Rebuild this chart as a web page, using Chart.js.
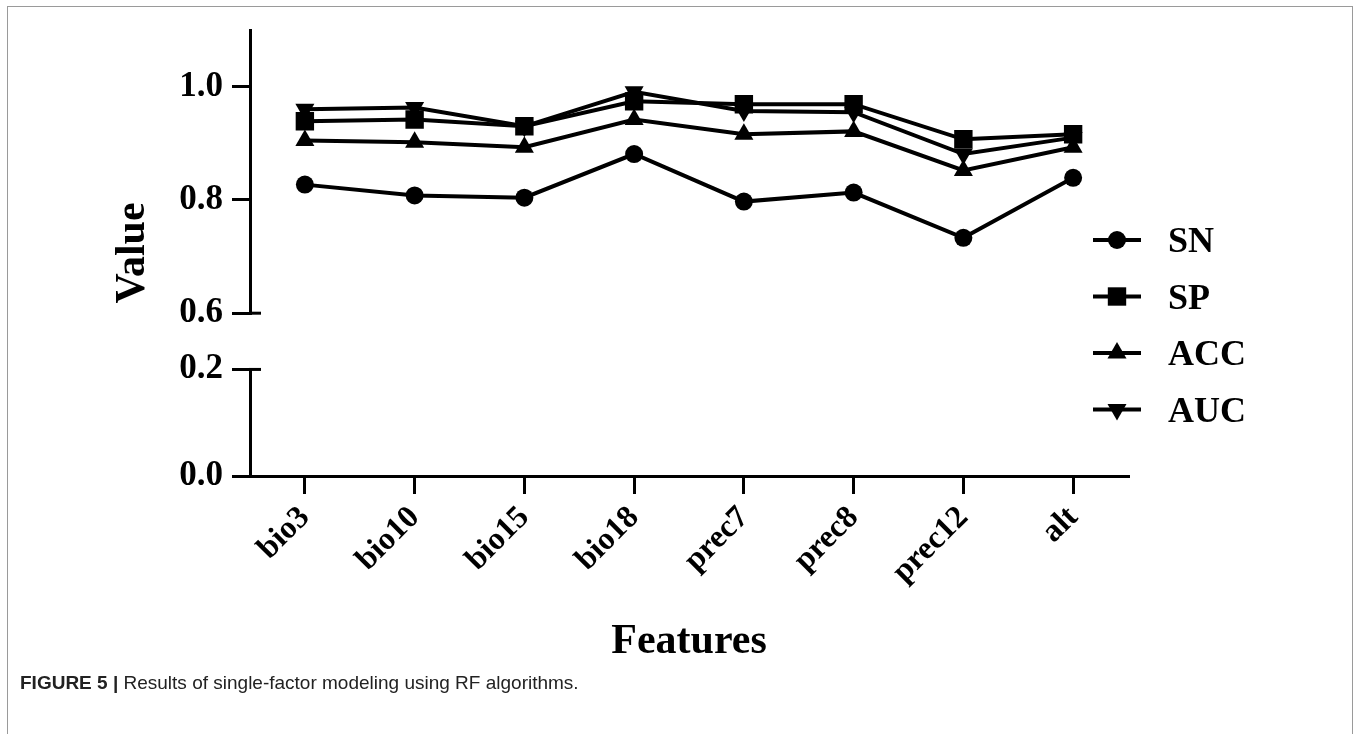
<!DOCTYPE html>
<html>
<head>
<meta charset="utf-8">
<script src="https://cdn.jsdelivr.net/npm/chart.js"></script>
<style>
  html, body { margin: 0; padding: 0; background: #fff; overflow: hidden; }
  #frame { position: absolute; left: 7px; top: 6px; width: 1344px; height: 780px; border: 1px solid #9a9a9a; }
  #wrap { position: absolute; left: 0; top: 0; width: 1360px; height: 690px; }
  #caption { position: absolute; left: 20px; top: 672px; font: 19px "Liberation Sans", Arial, sans-serif; color: #222; }
</style>
</head>
<body>
<div id="frame"></div>
<div id="wrap"><canvas id="myChart" width="1360" height="690"></canvas></div>
<div id="caption"><b>FIGURE 5 |</b> Results of single-factor modeling using RF algorithms.</div>
<script>
const features = ['bio3', 'bio10', 'bio15', 'bio18', 'prec7', 'prec8', 'prec12', 'alt'];
const sn  = [0.827, 0.808, 0.804, 0.881, 0.797, 0.813, 0.733, 0.839];
const sp  = [0.939, 0.942, 0.930, 0.974, 0.969, 0.969, 0.907, 0.916];
const acc = [0.905, 0.902, 0.893, 0.942, 0.916, 0.921, 0.852, 0.893];
const auc = [0.960, 0.963, 0.930, 0.991, 0.957, 0.955, 0.881, 0.910];
const upperTicks = [0.6, 0.8, 1.0];
const lowerTicks = [0.0, 0.2];

const serif = '"Liberation Serif", "Times New Roman", serif';

function series(label, data, style, radius, rotation) {
  return {
    label: label,
    data: data,
    yAxisID: 'y',
    borderColor: '#000',
    backgroundColor: '#000',
    borderWidth: 4,
    tension: 0,
    pointStyle: style,
    pointRotation: rotation || 0,
    pointRadius: radius,
    pointHoverRadius: radius,
    pointBackgroundColor: '#000',
    pointBorderWidth: 0
  };
}

function yAxis(min, max, ticks, weight, show) {
  return {
    type: 'linear',
    position: 'left',
    stack: 'value',
    stackWeight: weight,
    min: min,
    max: max,
    afterBuildTicks: s => { s.ticks = ticks.map(v => ({ value: v })); },
    afterFit: s => { s.width = 70; },
    border: { display: show, color: '#000', width: 3 },
    grid: { display: show, drawOnChartArea: false, drawTicks: true, tickLength: 18, color: '#000', lineWidth: 3 },
    ticks: {
      display: show,
      color: '#000',
      padding: 9,
      font: { family: serif, size: 35, weight: 'bold' },
      callback: v => Number(v).toFixed(1)
    }
  };
}

function drawMarker(ctx, style, rot, r, x, y) {
  ctx.save();
  ctx.translate(x, y);
  ctx.rotate(rot * Math.PI / 180);
  ctx.beginPath();
  if (style === 'circle') {
    ctx.arc(0, 0, r, 0, Math.PI * 2);
  } else if (style === 'rect') {
    const h = r * Math.SQRT1_2;
    ctx.rect(-h, -h, 2 * h, 2 * h);
  } else {
    for (let k = 0; k < 3; k++) {
      const a = -Math.PI / 2 + k * 2 * Math.PI / 3;
      const px = Math.cos(a) * r, py = Math.sin(a) * r;
      if (k === 0) ctx.moveTo(px, py); else ctx.lineTo(px, py);
    }
    ctx.closePath();
  }
  ctx.fill();
  ctx.restore();
}

const extras = {
  id: 'extras',
  afterDraw(chart) {
    const ctx = chart.ctx;
    const area = chart.chartArea;
    const up = chart.scales.y, low = chart.scales.yLow;
    ctx.save();
    ctx.strokeStyle = '#000';
    ctx.fillStyle = '#000';
    ctx.lineWidth = 3;
    // axis break caps
    [up.getPixelForValue(up.min), low.getPixelForValue(low.max)].forEach(py => {
      ctx.beginPath();
      ctx.moveTo(up.right - 1, py);
      ctx.lineTo(up.right + 11, py);
      ctx.stroke();
    });
    // y title
    ctx.save();
    ctx.font = 'bold 42px ' + serif;
    ctx.translate(area.left - 117, (area.top + area.bottom) / 2);
    ctx.rotate(-Math.PI / 2);
    ctx.textAlign = 'center';
    ctx.textBaseline = 'middle';
    ctx.fillText('Value', 0, 0);
    ctx.restore();
    // legend
    const x0 = area.right - 35;
    ctx.font = 'bold 36px ' + serif;
    ctx.textAlign = 'left';
    ctx.textBaseline = 'alphabetic';
    chart.data.datasets.forEach((ds, i) => {
      const y = area.top + 210 + i * 56.5;
      ctx.lineWidth = 4;
      ctx.beginPath();
      ctx.moveTo(x0, y);
      ctx.lineTo(x0 + 48, y);
      ctx.stroke();
      drawMarker(ctx, ds.pointStyle, ds.pointRotation, ds.pointRadius, x0 + 24, y);
      ctx.fillText(ds.label, x0 + 75, y + 12);
    });
    ctx.restore();
  }
};

new Chart(document.getElementById('myChart'), {
  type: 'line',
  data: {
    labels: features,
    datasets: [
      series('SN', sn, 'circle', 9),
      series('SP', sp, 'rect', 13),
      series('ACC', acc, 'triangle', 11),
      series('AUC', auc, 'triangle', 11, 180)
    ]
  },
  options: {
    responsive: false,
    animation: false,
    devicePixelRatio: 1,
    layout: { padding: { left: 180, right: 232, top: 20, bottom: 0 } },
    plugins: { legend: { display: false }, tooltip: { enabled: false } },
    scales: {
      x: {
        offset: true,
        afterFit: s => { s.height = 214; },
        border: { color: '#000', width: 3 },
        grid: { drawOnChartArea: false, drawTicks: true, tickLength: 18, color: '#000', lineWidth: 3, offset: false },
        ticks: {
          color: '#000',
          autoSkip: false,
          minRotation: 45,
          maxRotation: 45,
          padding: 5,
          font: { family: serif, size: 32, weight: 'bold' }
        },
        title: {
          display: true,
          text: 'Features',
          color: '#000',
          font: { family: serif, size: 42, weight: 'bold' },
          padding: { top: 0, bottom: 23 }
        }
      },
      yLow: yAxis(0, 0.2, lowerTicks, 108, true),
      yGap: yAxis(0, 1, [], 57, false),
      y: yAxis(0.6, 1.1, upperTicks, 287, true)
    }
  },
  plugins: [extras]
});
</script>
</body>
</html>
